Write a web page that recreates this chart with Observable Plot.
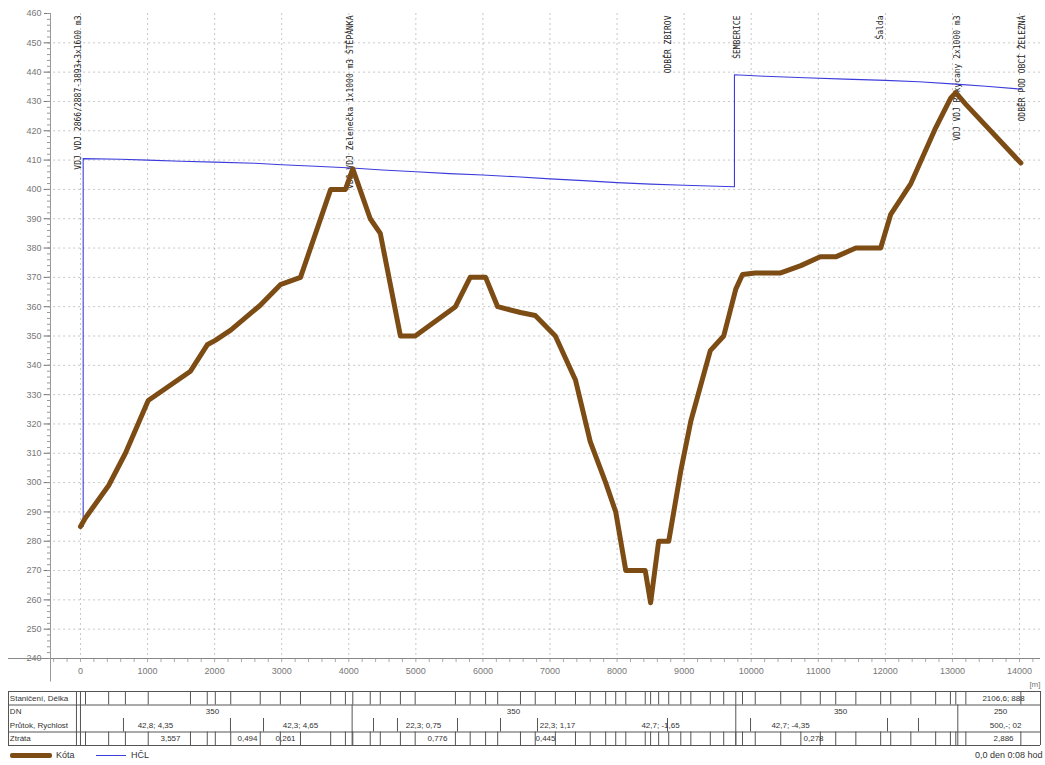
<!DOCTYPE html>
<html><head><meta charset="utf-8">
<script src="https://cdn.jsdelivr.net/npm/d3@7"></script>
<script src="https://cdn.jsdelivr.net/npm/@observablehq/plot@0.6"></script>
<style>
body{margin:0;background:#fff;font-family:"Liberation Sans",Arial,sans-serif;}
#wrap{position:relative;width:1045px;height:765px;overflow:hidden;background:#fff}
#main{position:absolute;left:0;top:0}
#table{position:absolute;left:0;top:689px}
#legend{position:absolute;left:0;top:748px;width:1045px;height:16px;font-size:9px;color:#333}
.lg{position:absolute;top:7px}
.lt{position:absolute;top:2px}
</style></head><body><div id="wrap"><div id="main"></div><div id="table"></div><div id="legend"></div></div>
<script>
// Kóta (terrain / pipe elevation) profile
const kotaX = [0, 75, 420, 670, 1010, 1640, 1890, 2010, 2240, 2680, 2980, 3280, 3730, 3950, 4060, 4320, 4470, 4770, 4990, 5590, 5810, 6040, 6220, 6560, 6780, 7080, 7380, 7600, 7830, 7980, 8130, 8420, 8500, 8620, 8770, 8950, 9100, 9390, 9590, 9770, 9870, 10060, 10440, 10740, 11030, 11260, 11560, 11930, 12080, 12380, 12750, 12970, 13050, 13200, 14020];
const kotaY = [285, 288, 299, 310, 328, 338, 347, 348.5, 352, 360.5, 367.5, 370, 400, 400, 407, 390, 385, 350, 350, 360, 370, 370, 360, 358, 357, 350, 335, 314, 300, 290, 270, 270, 259, 280, 280, 304, 321, 345, 350, 366, 371, 371.5, 371.5, 374, 377, 377, 380, 380, 391.5, 402, 421, 431, 433, 429, 409];
// HČL (hydraulic grade line)
const hclX = [40, 40, 600, 1000, 1500, 2000, 2600, 3000, 3500, 4050, 4500, 5000, 5500, 6000, 6500, 7000, 7500, 8000, 8500, 9000, 9750, 9750, 10200, 10800, 11400, 12000, 12500, 13050, 13500, 14020];
const hclY = [285, 410.5, 410.3, 410, 409.6, 409.3, 408.9, 408.4, 407.9, 407.3, 406.6, 406, 405.4, 404.9, 404.3, 403.6, 403, 402.3, 401.8, 401.4, 400.9, 439.1, 438.6, 438.1, 437.6, 437.2, 436.7, 435.9, 435.2, 434.2];
// Object labels (vertical)
const annX = [-30, 4030, 8767, 9796, 11928, 13076, 14045];
const annText = ["VDJ VDJ 2866/2887-3893+3x1600 m3", "VDJ VDJ Zelenečka 1x1000 m3 ŠTĚPÁNKA", "ODBĚR ZBIROV", "ŠEMBERICE", "Šalda", "VDJ VDJ Rokycany 2x1000 m3", "ODBĚR POD OBCÍ ŽELEZNÁ"];
// Axis ticks
const xTicks = d3.range(0, 14001, 1000);
const yTicks = d3.range(240, 461, 10);
// Table rows
const rowLabels = ["Staničení, Délka", "DN", "Průtok, Rychlost", "Ztráta"];
const dnBreaks = [4050, 9770, 13080];
const dnLabelX = [1968, 6456, 11332, 13718];
const dnLabels = ["350", "350", "350", "250"];
const flowBreaks = [641, 2236, 2729, 4369, 4726, 5621, 6262, 6814, 8752, 9990, 12032, 12494];
const flowLabelX = [1118, 3280, 5114, 7112, 8648, 10586, 13792];
const flowLabels = ["42,8; 4,35", "42,3; 4,65", "22,3; 0,75", "22,3; 1,17", "42,7; -1,65", "42,7; -4,35", "500,-; 02"];
const lossLabelX = [1342, 2490, 3057, 5323, 6933, 10929, 13762];
const lossLabels = ["3,557", "0,494", "0,261", "0,776", "0,445", "0,278", "2,886"];
const totalLabel = "2106,6; 888";

const xDomain = [-447, 14313];
const kota = kotaX.map((x, i) => ({x, y: kotaY[i]}));
const hcl = hclX.map((x, i) => ({x, y: hclY[i]}));
const ann = annX.map((x, i) => ({x, t: annText[i]}));

const main = Plot.plot({
  width: 1045, height: 690,
  marginLeft: 50, marginRight: 5, marginTop: 13, marginBottom: 32,
  style: {fontFamily: "Liberation Sans, Arial, sans-serif", background: "#fff"},
  x: {domain: xDomain},
  y: {domain: [240, 460]},
  marks: [
    Plot.gridY(yTicks.filter(d => d > 240 && d < 460), {stroke: "#999", strokeOpacity: 0.55, strokeDasharray: "2,3", x1: -550}),
    Plot.gridX(xTicks, {stroke: "#999", strokeOpacity: 0.55, strokeDasharray: "2,3"}),
    Plot.axisY(yTicks, {tickSize: 6, tickPadding: 3, fontSize: 9, color: "#777", label: null}),
    Plot.axisY(d3.range(240, 461, 2), {tickSize: 3, tickFormat: () => "", color: "#999", label: null}),
    Plot.axisX(xTicks, {tickSize: 0, tickPadding: 9, fontSize: 9, color: "#777", tickFormat: d => String(d), label: null}),
    Plot.axisX(d3.range(-400, 14301, 200), {tickSize: 4, tickFormat: () => "", color: "#aaa", label: null}),
    Plot.ruleY([240], {x1: -1073, x2: 14313, stroke: "#888"}),
    Plot.ruleX([-447], {y1: 232, y2: 460, stroke: "#999"}),
    Plot.text(["[m]"], {x: 14313, y: 240, dy: 26, textAnchor: "end", fontSize: 8, fill: "#777"}),
    Plot.text(ann, {x: "x", y: 460, text: "t", rotate: -90, textAnchor: "end", dy: 2, fontSize: 8, fontFamily: "DejaVu Sans Mono", fill: "#222"}),
    Plot.line(hcl, {x: "x", y: "y", stroke: "#3c3cdc", strokeWidth: 1.1}),
    Plot.line(kota, {x: "x", y: "y", stroke: "#7c4c14", strokeWidth: 5, strokeLinejoin: "round", strokeLinecap: "round"})
  ]
});
document.getElementById("main").appendChild(main);

// Table
const hr = [0, 1, 3, 4];
const lbl = rowLabels.map((t, i) => ({t, y: i + 0.5}));
const table = Plot.plot({
  width: 1045, height: 58,
  marginLeft: 50, marginRight: 5, marginTop: 1, marginBottom: 2,
  style: {fontFamily: "Liberation Sans, Arial, sans-serif", background: "transparent"},
  x: {domain: xDomain, axis: null},
  y: {domain: [0, 4], range: [2, 56], axis: null},
  marks: [
    Plot.ruleY(hr, {x1: -1073, x2: 14313, stroke: "#555"}),
    Plot.ruleX([-1073, -60, 0, 14313], {y1: 0, y2: 4, stroke: "#555"}),
    Plot.ruleX(kotaX.slice(1), {y1: 0, y2: 1, stroke: "#555"}),
    Plot.ruleX(kotaX.slice(1), {y1: 3, y2: 4, stroke: "#555"}),
    Plot.ruleX(dnBreaks, {y1: 1, y2: 4, stroke: "#555"}),
    Plot.ruleX(flowBreaks, {y1: 2, y2: 3, stroke: "#555"}),
    Plot.text(lbl, {x: -1053, y: "y", text: "t", textAnchor: "start", fontSize: 8, fill: "#333"}),
    Plot.text([totalLabel], {x: 13762, y: 0.5, fontSize: 8, fill: "#333"}),
    Plot.text(dnLabels, {x: dnLabelX, y: 1.5, fontSize: 8, fill: "#333"}),
    Plot.text(flowLabels, {x: flowLabelX, y: 2.5, fontSize: 8, fill: "#333"}),
    Plot.text(lossLabels, {x: lossLabelX, y: 3.5, fontSize: 8, fill: "#333"})
  ]
});
document.getElementById("table").appendChild(table);

// Legend
document.getElementById("legend").innerHTML =
  '<div class="lg" style="left:10px;width:42px;height:5px;top:5px;background:#7c4c14;border-radius:2px"></div>' +
  '<div class="lt" style="left:56px">Kóta</div>' +
  '<div class="lg" style="left:96px;width:30px;height:1px;background:#3c3cdc"></div>' +
  '<div class="lt" style="left:131px">HČL</div>' +
  '<div class="lt" style="left:975px;white-space:nowrap">0,0 den 0:08 hod</div>';
</script></body></html>
